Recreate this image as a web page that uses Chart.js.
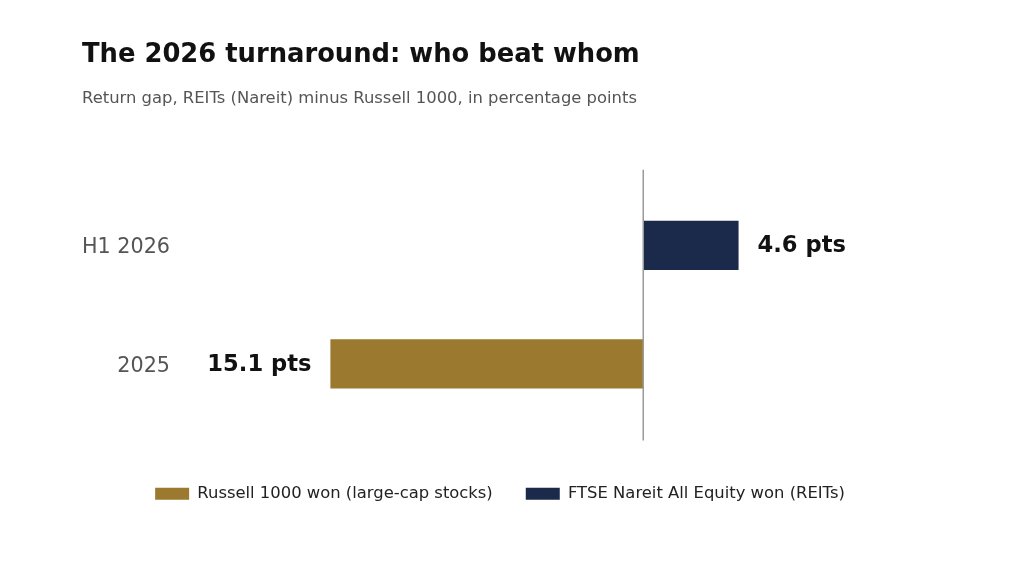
<!DOCTYPE html>
<html>
<head>
<meta charset="utf-8">
<script src="https://cdn.jsdelivr.net/npm/chart.js@4.4.1/dist/chart.umd.min.js"></script>
<style>
  html, body { margin: 0; padding: 0; background: #fff; }
  #wrap { width: 1024px; height: 576px; }
</style>
</head>
<body>
<div id="wrap"><canvas id="gapChart" width="1024" height="576"></canvas></div>
<script>
// chart data
const categories = ['H1 2026', '2025'];
const russellWon = [null, -15.1];
const nareitWon = [4.6, null];
const seriesNames = ['Russell 1000 won (large-cap stocks)', 'FTSE Nareit All Equity won (REITs)'];

const gold = '#9b7a2f';
const navy = '#1b2a4a';
const fontFamily = '"DejaVu Sans", Verdana, sans-serif';

// vertical line at zero
const zeroLine = {
    id: 'zeroLine',
    afterDatasetsDraw(chart) {
        const ctx = chart.ctx;
        const area = chart.chartArea;
        const x = chart.scales.x.getPixelForValue(0);
        ctx.save();
        ctx.strokeStyle = '#9a9a9a';
        ctx.lineWidth = 1.5;
        ctx.beginPath();
        ctx.moveTo(x, area.top - 16.5);
        ctx.lineTo(x, area.bottom + 17.5);
        ctx.stroke();
        ctx.restore();
    }
};

// "x.x pts" labels beside bars
const valueLabels = {
    id: 'valueLabels',
    afterDatasetsDraw(chart) {
        const ctx = chart.ctx;
        ctx.save();
        ctx.font = 'bold 22.6px ' + fontFamily;
        ctx.fillStyle = '#111';
        ctx.textBaseline = 'middle';
        chart.data.datasets.forEach((ds, i) => {
            chart.getDatasetMeta(i).data.forEach((bar, j) => {
                const v = ds.data[j];
                if (v === null) return;
                const text = Math.abs(v).toFixed(1) + ' pts';
                if (v >= 0) {
                    ctx.textAlign = 'left';
                    ctx.fillText(text, bar.x + 19, bar.y + 1);
                } else {
                    ctx.textAlign = 'right';
                    ctx.fillText(text, bar.x - 19, bar.y + 1);
                }
            });
        });
        ctx.restore();
    }
};

const gapChart = new Chart(document.getElementById('gapChart'), {
    type: 'bar',
    data: {
        labels: categories,
        datasets: [
            {
                label: seriesNames[0],
                data: russellWon,
                backgroundColor: gold,
                borderColor: gold
            },
            {
                label: seriesNames[1],
                data: nareitWon,
                backgroundColor: navy,
                borderColor: navy
            }
        ]
    },
    options: {
        indexAxis: 'y',
        responsive: false,
        animation: false,
        grouped: false,
        categoryPercentage: 1,
        barPercentage: 0.415,
        layout: {
            padding: { left: 82, right: 106, top: 0, bottom: 64 }
        },
        scales: {
            x: {
                min: -22.6,
                max: 13.26,
                grid: { display: false, drawTicks: false },
                border: { display: false },
                ticks: { display: false },
                afterFit: (s) => { s.height = 29.5 }
            },
            y: {
                grid: { display: false, drawTicks: false },
                border: { display: false },
                ticks: {
                    color: '#555',
                    padding: 5,
                    labelOffset: 2.5,
                    font: { family: fontFamily, size: 20.7 }
                },
                afterFit: (s) => { s.width = 93 }
            }
        },
        plugins: {
            title: {
                display: true,
                text: 'The 2026 turnaround: who beat whom',
                align: 'start',
                color: '#111',
                font: { family: fontFamily, size: 25.8, weight: 'bold', lineHeight: 1.2 },
                padding: { top: 39.8, bottom: 18 }
            },
            subtitle: {
                display: true,
                text: 'Return gap, REITs (Nareit) minus Russell 1000, in percentage points',
                align: 'start',
                color: '#555',
                font: { family: fontFamily, size: 16.4, lineHeight: 1.2 },
                padding: { top: 0, bottom: 77.7 }
            },
            legend: {
                position: 'bottom',
                labels: {
                    color: '#222',
                    boxWidth: 34,
                    boxHeight: 12,
                    padding: 33,
                    font: { family: fontFamily, size: 16.4 }
                }
            },
            tooltip: { enabled: false }
        }
    },
    plugins: [zeroLine, valueLabels]
});
</script>
</body>
</html>
